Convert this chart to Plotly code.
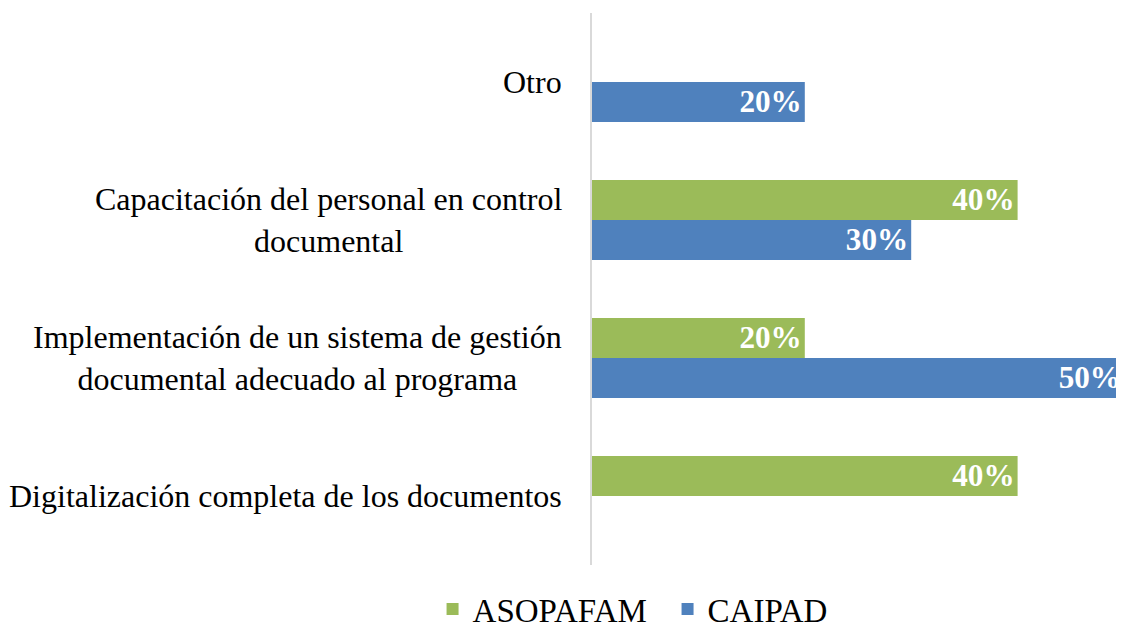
import plotly.graph_objects as go

categories = [
    "Digitalización completa de los documentos",
    "Implementación de un sistema de gestión<br>documental adecuado al programa",
    "Capacitación del personal en control<br>documental",
    "Otro",
]
asopafam = [40, 20, 40, None]
caipad = [None, 50, 30, 20]

GREEN = "#9BBB59"
BLUE = "#4F81BD"
FONT = "Liberation Serif, Times New Roman, serif"

fig = go.Figure()
fig.add_trace(go.Bar(
    y=categories, x=caipad, name="CAIPAD", orientation="h",
    marker=dict(color=BLUE, line=dict(width=0)),
    texttemplate="<b>%{x}%</b>", textposition="inside", insidetextanchor="end",
    textfont=dict(family=FONT, size=33, color="white"), legendrank=2,
))
fig.add_trace(go.Bar(
    y=categories, x=asopafam, name="ASOPAFAM", orientation="h",
    marker=dict(color=GREEN, line=dict(width=0)),
    texttemplate="<b>%{x}%</b>", textposition="inside", insidetextanchor="end",
    textfont=dict(family=FONT, size=33, color="white"), legendrank=1,
))

for c in categories:
    fig.add_annotation(
        x=0, xref="paper", y=c, yref="y", text=c, showarrow=False,
        xanchor="right", yanchor="middle", align="center", xshift=-28,
        font=dict(family=FONT, size=32, color="black"),
    )

fig.update_layout(
    width=1116, height=622,
    margin=dict(l=584, r=0, t=5, b=65, autoexpand=False),
    paper_bgcolor="white", plot_bgcolor="white",
    barmode="group", bargap=0.42, bargroupgap=0,
    font=dict(family=FONT, size=32, color="black"),
    xaxis=dict(range=[0, 50], visible=False, showgrid=False, zeroline=False),
    yaxis=dict(categoryorder="array", categoryarray=categories,
               showticklabels=False, showgrid=False, zeroline=False,
               showline=True, linecolor="#D9D9D9", linewidth=1.5, ticks=""),
    legend=dict(orientation="h", xref="container", yref="paper",
                x=0.591, xanchor="center", y=-0.080, yanchor="middle",
                font=dict(family=FONT, size=33, color="black"),
                traceorder="normal", entrywidth=190),
    showlegend=True,
)

fig.write_html("out.html")
